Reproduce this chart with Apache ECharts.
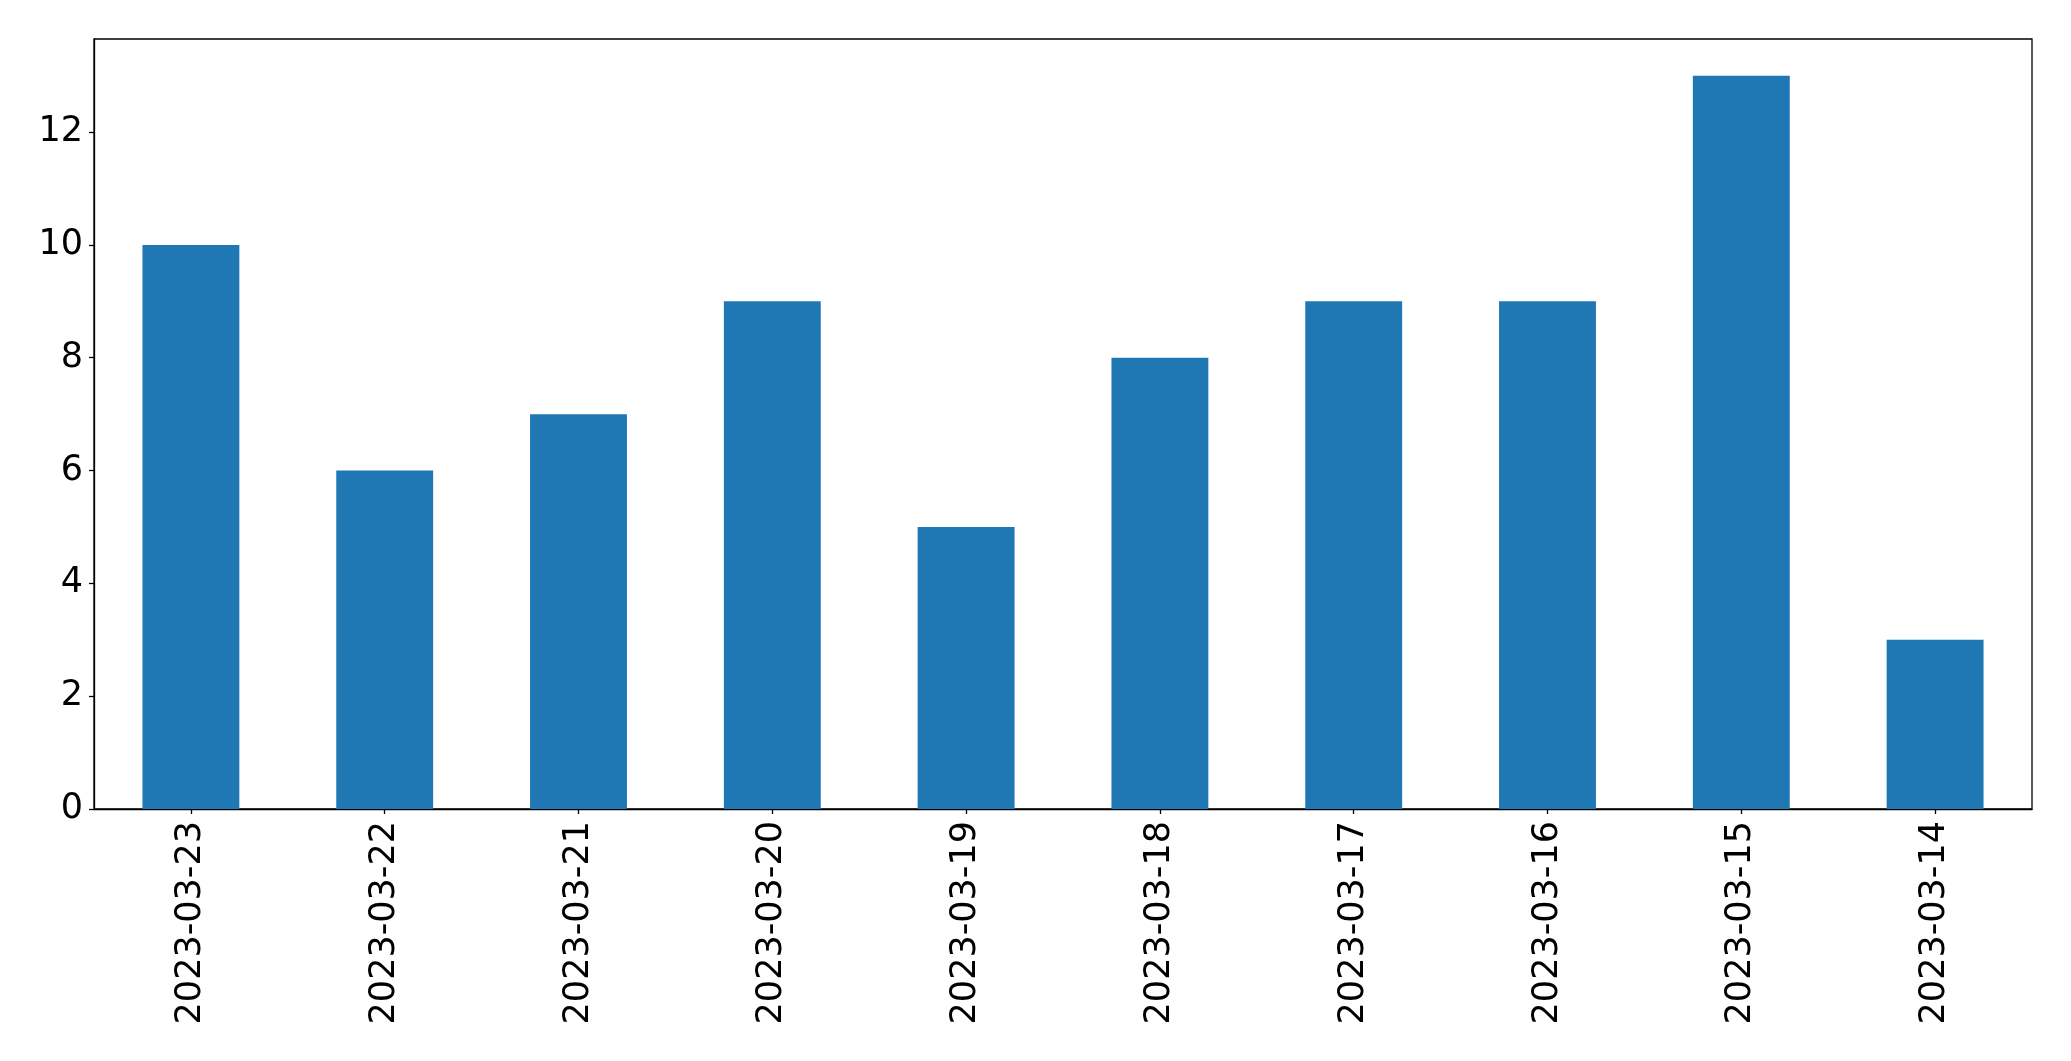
<!DOCTYPE html>
<html><head><meta charset="utf-8">
<script src="https://cdn.jsdelivr.net/npm/echarts@6/dist/echarts.min.js"></script>
<style>html,body{margin:0;padding:0;background:#fff}#c{width:2071px;height:1061px}</style>
</head><body><div id="c"></div>
<script>
const categories = ['2023-03-23','2023-03-22','2023-03-21','2023-03-20','2023-03-19','2023-03-18','2023-03-17','2023-03-16','2023-03-15','2023-03-14'];
const values = [10, 6, 7, 9, 5, 8, 9, 9, 13, 3];
const yTicks = [0, 2, 4, 6, 8, 10, 12];

const chart = echarts.init(document.getElementById('c'), null, {renderer: 'canvas'});
const font = 'DejaVu Sans';
chart.setOption({
  animation: false,
  grid: {left: 94, top: 39, right: 39, bottom: 252, show: true, borderColor: '#000', borderWidth: 1.3, backgroundColor: 'transparent'},
  xAxis: {
    type: 'category', data: categories,
    axisLine: {show: true, lineStyle: {color: '#000', width: 1.3}},
    axisTick: {show: true, alignWithLabel: true, length: 5, lineStyle: {color: '#000', width: 1.3}},
    axisLabel: {rotate: 90, fontFamily: font, fontSize: 35, color: '#000', margin: 12, interval: 0},
    splitLine: {show: false}
  },
  yAxis: {
    type: 'value', min: 0, max: 13.65, interval: 2,
    axisLine: {show: true, lineStyle: {color: '#000', width: 1.3}},
    axisTick: {show: true, length: 5, customValues: yTicks, lineStyle: {color: '#000', width: 1.3}},
    axisLabel: {fontFamily: font, fontSize: 35, color: '#000', margin: 11, customValues: yTicks,
      padding: [8, 0, 0, 0],
      formatter: v => yTicks.includes(v) ? String(v) : ''},
    splitLine: {show: false}
  },
  series: [{type: 'bar', data: values, barWidth: '50%', itemStyle: {color: '#1f77b4'}}]
});
</script></body></html>
